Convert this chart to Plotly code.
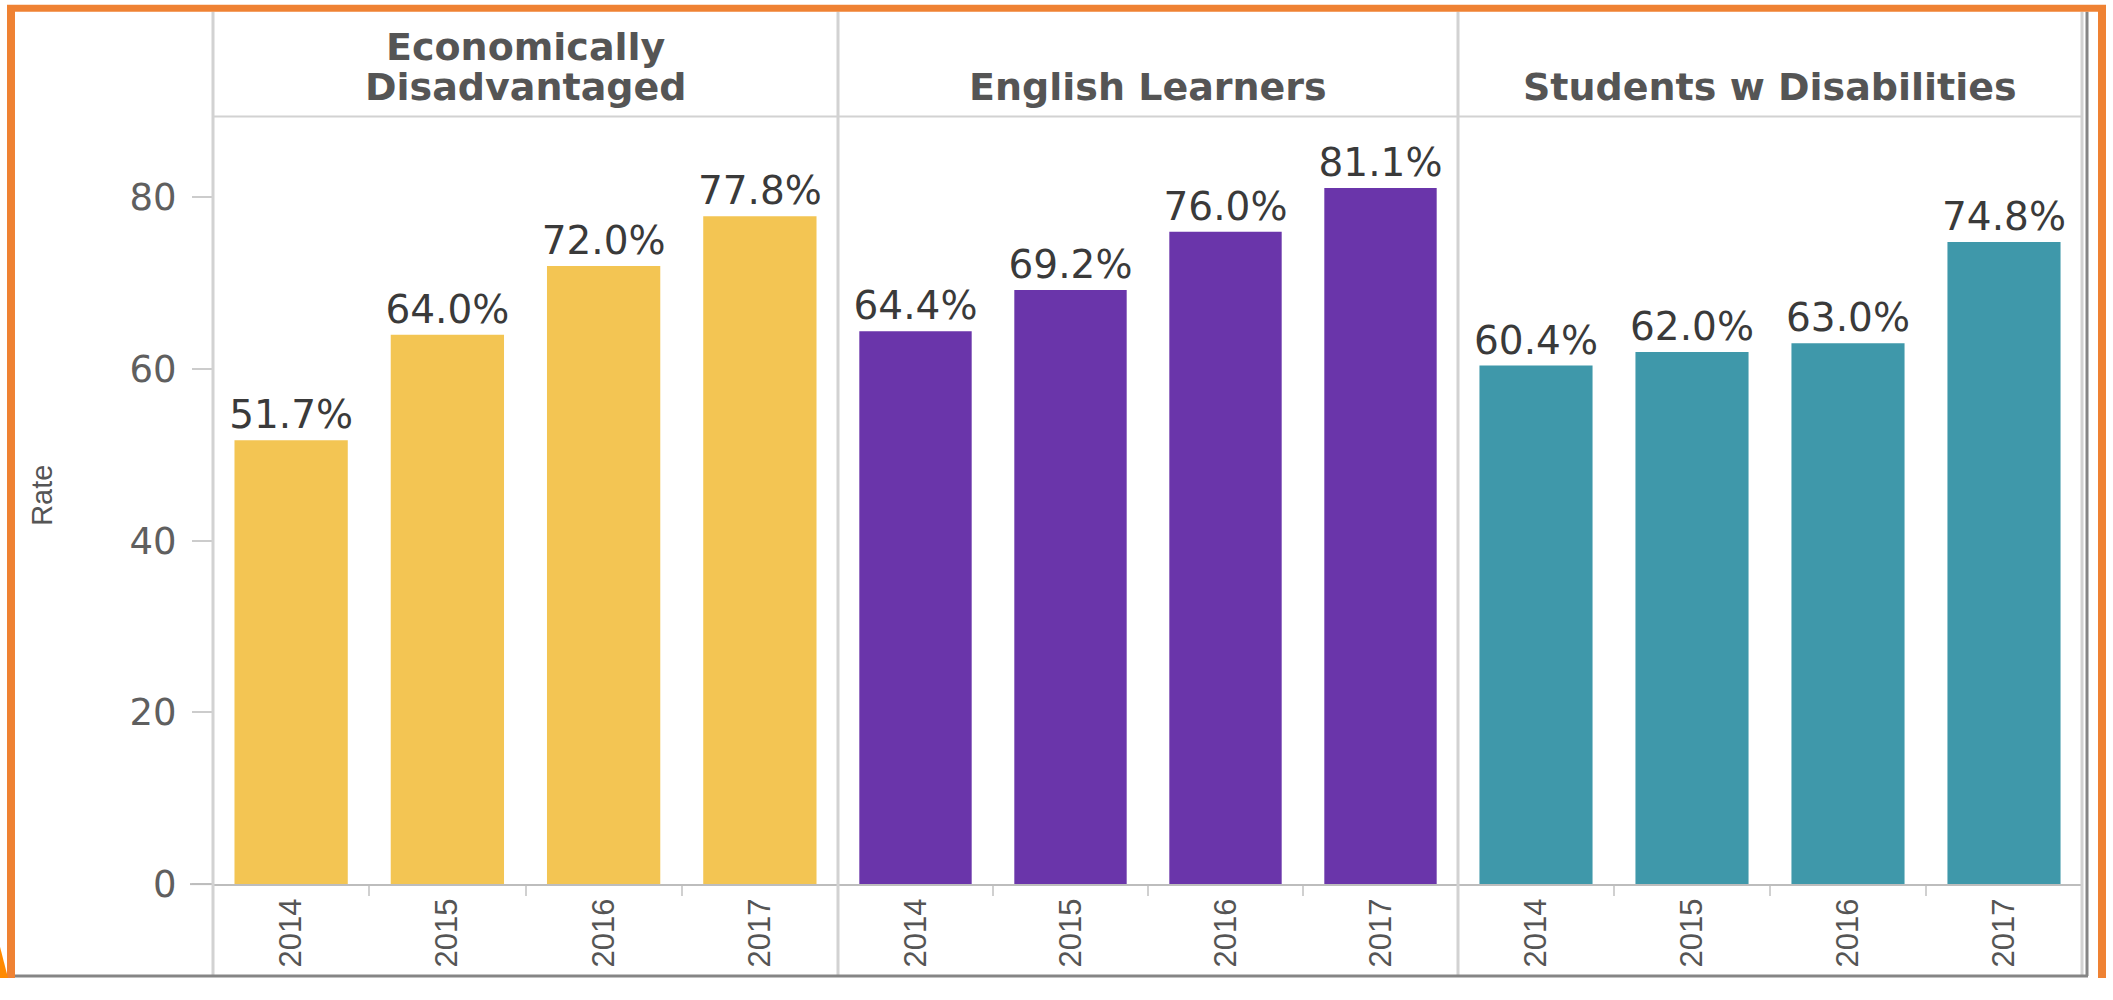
import plotly.graph_objects as go

# ---- data ----
groups = ["Economically<br>Disadvantaged", "English Learners", "Students w Disabilities"]
years = ["2014", "2015", "2016", "2017"]
econ_dis = [51.7, 64.0, 72.0, 77.8]
eng_learn = [64.4, 69.2, 76.0, 81.1]
stud_dis = [60.4, 62.0, 63.0, 74.8]
y_ticks = [0, 20, 40, 60, 80]
y_title = "Rate"

series = [econ_dis, eng_learn, stud_dis]
colors = ["#F3C553", "#6A35AA", "#3F98AA"]

W, H = 2113, 1000
def px(x):
    return x / W
def py(y):
    return 1 - y / H

# panel geometry (pixels)
edges = [213, 838, 1458, 2082]
plot_top, plot_zero = 119, 904
unit = (904.3 - 202.1) / 80.0
ymax = (plot_zero - plot_top) / unit

fig = go.Figure()
axis_names = ["x", "x2", "x3"]
for i, (vals, col) in enumerate(zip(series, colors)):
    fig.add_trace(go.Bar(
        x=years, y=vals, xaxis=axis_names[i], yaxis="y",
        marker=dict(color=col, line=dict(width=0)),
        texttemplate="%{y:.1f}%", textposition="outside",
        textfont=dict(family="DejaVu Sans", size=39, color="#3a3a3a"),
        constraintext="none", cliponaxis=False, showlegend=False,
    ))

layout = dict(
    width=W, height=H, margin=dict(l=0, r=0, t=0, b=0),
    paper_bgcolor="white", plot_bgcolor="white",
    bargap=0.275, showlegend=False,
    yaxis=dict(
        domain=[py(plot_zero), py(plot_top)], range=[0, ymax],
        tickvals=y_ticks, ticks="outside", ticklen=20, tickwidth=2,
        tickcolor="#cccccc", showgrid=False, zeroline=False, showline=False,
        tickfont=dict(family="DejaVu Sans", size=37, color="#5f5f5f"),
        anchor="x", ticklabelstandoff=8,
    ),
)
for i, name in enumerate(["xaxis", "xaxis2", "xaxis3"]):
    layout[name] = dict(
        domain=[px(edges[i]), px(edges[i + 1])], type="category",
        anchor="y", showline=True, linecolor="#bdbdbd", linewidth=2,
        ticks="outside", tickson="boundaries", ticklen=10, tickwidth=2,
        tickcolor="#d0d0d0", tickangle=-90, showgrid=False,
        tickfont=dict(family="Liberation Sans", size=31, color="#555555"),
    )
fig.update_layout(**layout)

shapes = []
# header separator line
shapes.append(dict(type="line", xref="paper", yref="paper",
                   x0=px(edges[0]), x1=px(edges[-1]), y0=py(plot_top), y1=py(plot_top),
                   line=dict(color="#d2d2d2", width=2)))
# baseline extension left of axis
shapes.append(dict(type="line", xref="paper", yref="paper",
                   x0=px(190), x1=px(edges[0]), y0=py(plot_zero), y1=py(plot_zero),
                   line=dict(color="#bdbdbd", width=2)))
# vertical panel lines
for e in edges:
    shapes.append(dict(type="line", xref="paper", yref="paper",
                       x0=px(e), x1=px(e), y0=py(12), y1=py(997),
                       line=dict(color="#d2d2d2", width=3)))
# dark frame lines (right and bottom)
shapes.append(dict(type="line", xref="paper", yref="paper",
                   x0=px(2087), x1=px(2087), y0=py(12), y1=py(998),
                   line=dict(color="#858585", width=3)))
shapes.append(dict(type="line", xref="paper", yref="paper",
                   x0=px(15), x1=px(2088), y0=py(998), y1=py(998),
                   line=dict(color="#858585", width=3)))
# orange border (top, left, right)
orange = "#EF8233"
shapes.append(dict(type="line", xref="paper", yref="paper",
                   x0=px(7), x1=px(2106), y0=py(8.5), y1=py(8.5),
                   line=dict(color=orange, width=7)))
shapes.append(dict(type="line", xref="paper", yref="paper",
                   x0=px(11), x1=px(11), y0=py(5), y1=py(1000),
                   line=dict(color=orange, width=8)))
shapes.append(dict(type="line", xref="paper", yref="paper",
                   x0=px(2102), x1=px(2102), y0=py(5), y1=py(1000),
                   line=dict(color=orange, width=8)))
# small orange wedge bottom-left
shapes.append(dict(type="path", xref="paper", yref="paper",
                   path=f"M {px(0)} {py(968)} L {px(8)} {py(1000)} L {px(0)} {py(1000)} Z",
                   fillcolor="#FF8A00", line=dict(width=0)))
fig.update_layout(shapes=shapes)

annotations = []
for i, g in enumerate(groups):
    lines = g.split("<br>")
    for j, line in enumerate(reversed(lines)):
        annotations.append(dict(
            text=line, xref="paper", yref="paper",
            x=(px(edges[i]) + px(edges[i + 1])) / 2, y=py(113 - 40 * j),
            xanchor="center", yanchor="bottom", showarrow=False,
            font=dict(family="DejaVu Sans", size=38, color="#555555", weight="bold"),
        ))
annotations.append(dict(
    text=y_title, xref="paper", yref="paper", x=px(42), y=py(507),
    xanchor="center", yanchor="middle", showarrow=False, textangle=-90,
    font=dict(family="Liberation Sans", size=29, color="#555555"),
))
fig.update_layout(annotations=annotations)

fig.write_html(
    "out.html",
    post_script="document.body.style.margin='0';document.body.style.overflow='hidden';",
    config={"displayModeBar": False},
)
